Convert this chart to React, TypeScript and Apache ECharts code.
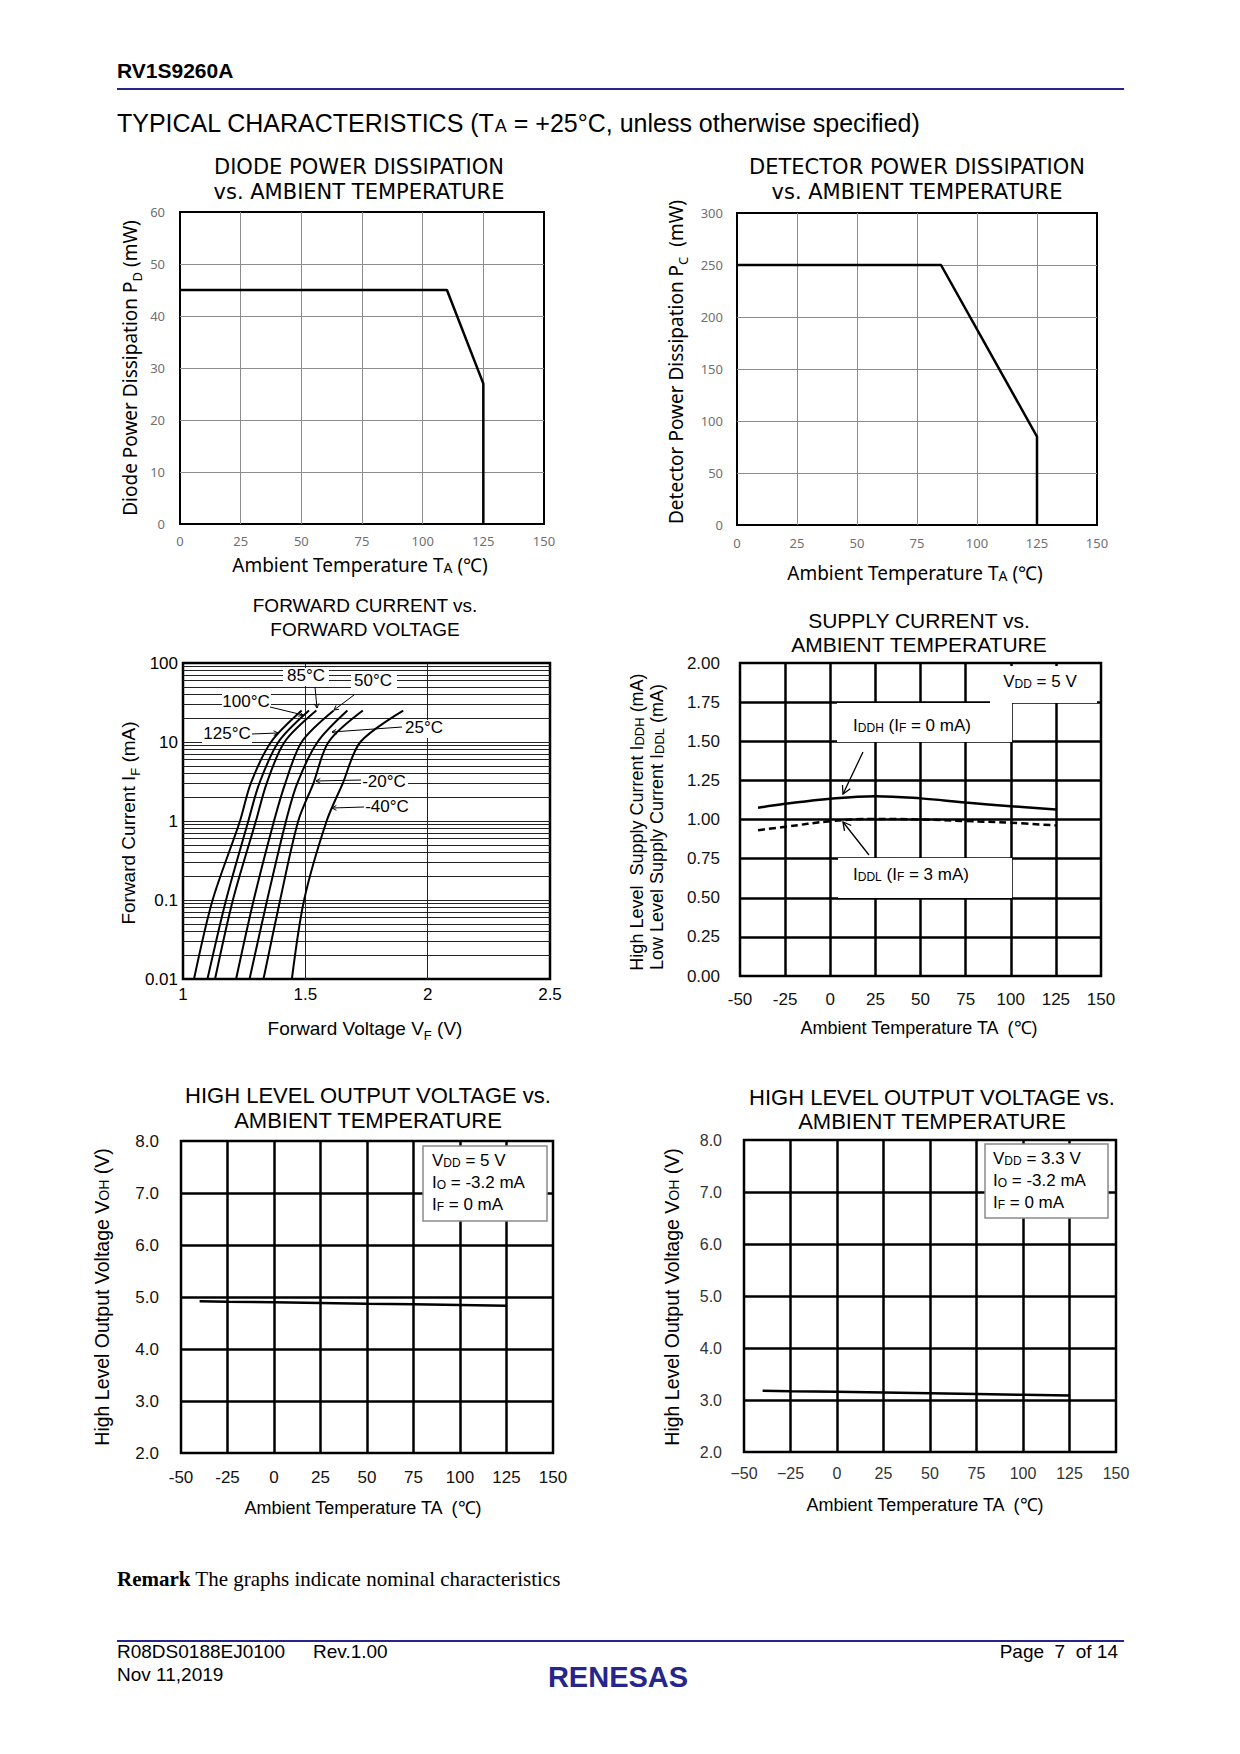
import React, { useEffect, useRef } from "react";
import * as echarts from "echarts";

// ---------- DATA ----------
// Diode power dissipation vs ambient temperature
const PD_TEMP = [0, 110, 125, 125];
const PD_MW = [45, 45, 27, 0];
// Detector power dissipation vs ambient temperature
const PC_TEMP = [0, 85, 125, 125];
const PC_MW = [250, 250, 85, 0];
// Forward current vs forward voltage (IF levels in mA, VF in V per temperature)
const IF_MA = [0.01, 0.1, 1, 3, 10, 25];
const FV_LABELS = ["125°C", "100°C", "85°C", "50°C", "25°C", "-20°C", "-40°C"];
const VF_125 = [1.045, 1.121, 1.233, 1.277, 1.36, 1.485];
const VF_100 = [1.1, 1.176, 1.267, 1.312, 1.39, 1.515];
const VF_85 = [1.131, 1.204, 1.298, 1.342, 1.415, 1.545];
const VF_50 = [1.217, 1.289, 1.372, 1.418, 1.485, 1.616];
const VF_25 = [1.272, 1.344, 1.421, 1.467, 1.55, 1.672];
const VF_M20 = [1.329, 1.397, 1.471, 1.533, 1.595, 1.735];
const VF_M40 = [1.445, 1.495, 1.587, 1.653, 1.725, 1.9];
const VF_CURVES = [VF_125, VF_100, VF_85, VF_50, VF_25, VF_M20, VF_M40];
const LOG_DECADES = [0.01, 0.1, 1, 10];
const LOG_STEPS = [2, 3, 4, 5, 6, 7, 8, 9];
// Supply current vs ambient temperature
const TEMP_C = [-40, -25, 0, 25, 50, 75, 100, 125];
const IDDH_MA = [1.075, 1.1, 1.133, 1.149, 1.135, 1.108, 1.085, 1.064];
const IDDL_MA = [0.932, 0.953, 0.989, 1.004, 1.0, 0.99, 0.979, 0.962];
// High level output voltage vs ambient temperature
const VOH_5V = [4.92, 4.91, 4.9, 4.885, 4.87, 4.86, 4.845, 4.83];
const VOH_33V = [3.18, 3.17, 3.16, 3.145, 3.13, 3.115, 3.1, 3.085];

// ---------- STYLE ----------
const GOTHIC = "'Noto Sans', 'DejaVu Sans', sans-serif";
const DEJAVU = "'DejaVu Sans', 'Noto Sans', sans-serif";
const ARIAL = "'Liberation Sans', Arial, Helvetica, sans-serif";
const SERIF = "'Liberation Serif', 'Times New Roman', serif";
const NAVY = "#25258c";

function rt(x: number, y: number, text: string, fs: number, ff: string, o: any = {}) {
  const fill = o.fill || "#000";
  const fw = o.fontWeight || "normal";
  const lh = o.lh || Math.round(fs * 1.2);
  const ss = Math.round(fs * 0.72);
  const us = Math.round(fs * 0.7);
  return {
    type: "text",
    x,
    y,
    z: o.z ?? 30,
    rotation: o.rotation || 0,
    silent: true,
    style: {
      text,
      align: o.align || "center",
      verticalAlign: "middle",
      fill,
      fontSize: fs,
      fontFamily: ff,
      fontWeight: fw,
      rich: {
        n: { fontSize: fs, fontFamily: ff, fill, fontWeight: fw, verticalAlign: "top", lineHeight: lh },
        b: { fontSize: fs, fontFamily: ff, fill, fontWeight: "bold", verticalAlign: "top", lineHeight: lh },
        s: {
          fontSize: ss,
          fontFamily: ff,
          fill,
          fontWeight: fw,
          verticalAlign: "bottom",
          lineHeight: Math.round(ss * 1.2),
          padding: [0, 0, Math.round(fs * 0.2), 0],
        },
        u: {
          fontSize: us,
          fontFamily: ff,
          fill,
          fontWeight: fw,
          verticalAlign: "bottom",
          lineHeight: Math.round(us * 1.2),
          padding: [Math.round(fs * 0.45), 0, 0, 0],
        },
      },
    },
  };
}

// two-line title as one text block
function title2(x: number, y1: number, y2: number, l1: string, l2: string, fs: number, ff: string) {
  return rt(x, (y1 + y2) / 2, "{n|" + l1 + "}\n{n|" + l2 + "}", fs, ff, { lh: y2 - y1 });
}

function whiteRect(x: number, y: number, w: number, h: number, stroke?: string) {
  return {
    type: "rect",
    z: 25,
    silent: true,
    shape: { x, y, width: w, height: h },
    style: { fill: "#fff", stroke: stroke || null, lineWidth: stroke ? 1.5 : 0 },
  };
}

function hline(x1: number, y1: number, x2: number, y2: number, color: string, w: number) {
  return { type: "line", z: 30, silent: true, shape: { x1, y1, x2, y2 }, style: { stroke: color, lineWidth: w } };
}

function arrow(x1: number, y1: number, x2: number, y2: number, head = 6, width = 1.2) {
  const ang = Math.atan2(y2 - y1, x2 - x1);
  const a1 = ang + Math.PI * 0.84;
  const a2 = ang - Math.PI * 0.84;
  return [
    { type: "line", z: 31, silent: true, shape: { x1, y1, x2, y2 }, style: { stroke: "#000", lineWidth: width } },
    {
      type: "polyline",
      z: 31,
      silent: true,
      shape: {
        points: [
          [x2 + head * Math.cos(a1), y2 + head * Math.sin(a1)],
          [x2, y2],
          [x2 + head * Math.cos(a2), y2 + head * Math.sin(a2)],
        ],
      },
      style: { stroke: "#000", lineWidth: width, fill: null },
    },
  ];
}

function valueAxis(gridIndex: number, min: number, max: number, interval: number, o: any) {
  return {
    type: "value",
    gridIndex,
    min,
    max,
    interval,
    axisLine: { show: false },
    axisTick: { show: false },
    axisLabel: {
      show: true,
      color: o.color,
      fontSize: o.fontSize,
      fontFamily: o.fontFamily,
      margin: o.margin,
      showMinLabel: true,
      showMaxLabel: true,
      hideOverlap: false,
      formatter: o.formatter,
    },
    splitLine: {
      show: true,
      showMinLine: false,
      showMaxLine: false,
      lineStyle: { color: o.splitColor, width: o.splitWidth, type: "solid" },
    },
  };
}

function buildOption() {
  const grids = [
    { left: 180, top: 212, width: 364, height: 312, borderWidth: 2 },
    { left: 737, top: 213, width: 360, height: 312, borderWidth: 2 },
    { left: 183, top: 663, width: 367, height: 316, borderWidth: 2.5 },
    { left: 740, top: 663, width: 361, height: 313, borderWidth: 2.5 },
    { left: 181, top: 1141, width: 372, height: 312, borderWidth: 2.5 },
    { left: 744, top: 1140, width: 372, height: 312, borderWidth: 2.5 },
  ].map((g) => ({ ...g, show: true, borderColor: "#000", containLabel: false }));

  const gothicLbl = { color: "#707070", fontSize: 13, fontFamily: GOTHIC, splitColor: "#8c8c8c", splitWidth: 1 };
  const arialLbl = { color: "#111", fontSize: 17, fontFamily: ARIAL, splitColor: "#000", splitWidth: 2.5 };
  const minus = (v: number) => String(v).replace("-", "\u2212");

  const xAxis = [
    valueAxis(0, 0, 150, 25, { ...gothicLbl, margin: 10 }),
    valueAxis(1, 0, 150, 25, { ...gothicLbl, margin: 11 }),
    valueAxis(2, 1, 2.5, 0.5, { color: "#000", fontSize: 17, fontFamily: ARIAL, margin: 7, splitColor: "#222", splitWidth: 1 }),
    valueAxis(3, -50, 150, 25, { ...arialLbl, margin: 15 }),
    valueAxis(4, -50, 150, 25, { ...arialLbl, margin: 16 }),
    valueAxis(5, -50, 150, 25, { ...arialLbl, color: "#333", fontSize: 16, margin: 13, formatter: minus }),
  ];

  const yAxis: any[] = [
    valueAxis(0, 0, 60, 10, { ...gothicLbl, margin: 15 }),
    valueAxis(1, 0, 300, 50, { ...gothicLbl, margin: 14 }),
    {
      type: "log",
      gridIndex: 2,
      logBase: 10,
      min: 0.01,
      max: 100,
      axisLine: { show: false },
      axisTick: { show: false },
      axisLabel: {
        color: "#000",
        fontSize: 17,
        fontFamily: ARIAL,
        margin: 5,
        showMinLabel: true,
        showMaxLabel: true,
        formatter: (v: number) => String(Number(v.toPrecision(2))),
      },
      splitLine: { show: true, showMinLine: false, showMaxLine: false, lineStyle: { color: "#222", width: 1 } },
    },
    valueAxis(3, 0, 2, 0.25, { ...arialLbl, margin: 20, formatter: (v: number) => v.toFixed(2) }),
    valueAxis(4, 2, 8, 1, { ...arialLbl, margin: 22, formatter: (v: number) => v.toFixed(1) }),
    valueAxis(5, 2, 8, 1, { ...arialLbl, color: "#333", fontSize: 16, margin: 22, formatter: (v: number) => v.toFixed(1) }),
  ];

  const minorLines: any[] = [];
  LOG_DECADES.forEach((d) => LOG_STEPS.forEach((s) => minorLines.push({ yAxis: Number((d * s).toPrecision(2)) })));

  const baseLine = (xi: number, data: number[][], width: number, extra: any = {}) => ({
    type: "line",
    xAxisIndex: xi,
    yAxisIndex: xi,
    data,
    symbol: "none",
    silent: true,
    lineStyle: { color: "#000", width, ...(extra.lineStyle || {}) },
    itemStyle: { color: "#000" },
    smooth: extra.smooth || false,
    z: 5,
    ...(extra.markLine ? { markLine: extra.markLine } : {}),
    name: extra.name,
  });

  const series: any[] = [
    baseLine(0, PD_TEMP.map((t, i) => [t, PD_MW[i]]), 2.5),
    baseLine(1, PC_TEMP.map((t, i) => [t, PC_MW[i]]), 2.5),
    ...VF_CURVES.map((vf, ci) =>
      baseLine(2, vf.map((v, i) => [v, IF_MA[i]]), 2, {
        smooth: 0.3,
        name: FV_LABELS[ci],
        markLine:
          ci === 0
            ? {
                silent: true,
                symbol: ["none", "none"],
                label: { show: false },
                lineStyle: { color: "#222", width: 1, type: "solid" },
                emphasis: { disabled: true },
                data: minorLines,
              }
            : undefined,
      })
    ),
    baseLine(3, TEMP_C.map((t, i) => [t, IDDH_MA[i]]), 2.5, { smooth: 0.4, name: "IDDH" }),
    baseLine(3, TEMP_C.map((t, i) => [t, IDDL_MA[i]]), 2.5, { smooth: 0.4, name: "IDDL", lineStyle: { type: [7, 4] } }),
    baseLine(4, TEMP_C.map((t, i) => [t, VOH_5V[i]]), 2.5, { name: "VOH 5V" }),
    baseLine(5, TEMP_C.map((t, i) => [t, VOH_33V[i]]), 2.5, { name: "VOH 3.3V" }),
  ];

  const ROT = Math.PI / 2;
  const els: any[] = [];

  // Header
  els.push(rt(117, 72, "{b|RV1S9260A}", 21, ARIAL, { align: "left" }));
  els.push(hline(117, 89, 1124, 89, NAVY, 2));
  els.push(rt(117, 125, "{n|TYPICAL CHARACTERISTICS (T}{s|A}{n| = +25°C, unless otherwise specified)}", 25, ARIAL, { align: "left" }));

  // Chart 1
  els.push(title2(359, 169, 194, "DIODE POWER DISSIPATION", "vs. AMBIENT TEMPERATURE", 21, DEJAVU));
  els.push(rt(132, 368, "{n|Diode Power Dissipation P}{u|D}{n| (mW)}", 19, GOTHIC, { rotation: ROT }));
  els.push(rt(360, 567, "{n|Ambient Temperature T}{s|A}{n| (℃)}", 19, GOTHIC));

  // Chart 2
  els.push(title2(917, 169, 194, "DETECTOR POWER DISSIPATION", "vs. AMBIENT TEMPERATURE", 21, DEJAVU));
  els.push(rt(678, 362, "{n|Detector Power Dissipation P}{u|C}{n|  (mW)}", 19, GOTHIC, { rotation: ROT }));
  els.push(rt(915, 575, "{n|Ambient Temperature T}{s|A}{n| (℃)}", 19, GOTHIC));

  // Chart 3
  els.push(title2(365, 608, 632, "FORWARD CURRENT vs.", "FORWARD VOLTAGE", 19, ARIAL));
  els.push(rt(130, 823, "{n|Forward Current I}{u|F}{n| (mA)}", 19, ARIAL, { rotation: ROT }));
  els.push(rt(365, 1030, "{n|Forward Voltage V}{u|F}{n| (V)}", 19, ARIAL));
  const fvLabels: [string, number, number, number, number, number, number, number, number][] = [
    // label, cx, cy, rectX, rectW, ax1, ay1, ax2, ay2
    ["85°C", 306, 677, 283, 46, 315, 687, 317, 708],
    ["50°C", 373, 682, 351, 46, 354, 695, 334, 710],
    ["100°C", 246, 703, 222, 49, 270, 707, 303, 715],
    ["125°C", 227, 735, 202, 50, 252, 734, 278, 733],
    ["25°C", 424, 729, 402, 46, 402, 727, 332, 732],
    ["-20°C", 384, 783, 361, 47, 361, 780, 316, 781],
    ["-40°C", 387, 808, 364, 47, 364, 807, 332, 808],
  ];
  fvLabels.forEach(([t, cx, cy, rx, rw, x1, y1, x2, y2]) => {
    els.push(whiteRect(rx, cy - 9, rw, 18));
    els.push(rt(cx, cy, "{n|" + t + "}", 17, ARIAL));
    els.push(...arrow(x1, y1, x2, y2, 5, 1));
  });

  // Chart 4
  els.push(title2(919, 622, 646, "SUPPLY CURRENT vs.", "AMBIENT TEMPERATURE", 21, ARIAL));
  els.push(rt(639, 822, "{n|High Level  Supply Current I}{s|DDH}{n| (mA)}", 18, ARIAL, { rotation: ROT }));
  els.push(rt(659, 827, "{n|Low Level Supply Current I}{s|DDL}{n| (mA)}", 18, ARIAL, { rotation: ROT }));
  els.push(rt(919, 1030, "{n|Ambient Temperature TA  (℃)}", 18, ARIAL));
  els.push(whiteRect(990, 666, 107, 37));
  els.push(rt(1040, 683, "{n|V}{s|DD}{n| = 5 V}", 17, ARIAL));
  els.push(whiteRect(837, 703, 175, 39));
  els.push(rt(912, 727, "{n|I}{s|DDH}{n| (I}{s|F}{n| = 0 mA)}", 17, ARIAL));
  els.push(whiteRect(838, 858, 174, 40));
  els.push(rt(911, 876, "{n|I}{s|DDL}{n| (I}{s|F}{n| = 3 mA)}", 17, ARIAL));
  els.push(...arrow(863, 752, 843, 794, 9, 1.3));
  els.push(...arrow(869, 855, 843, 822, 9, 1.3));

  // Chart 5
  els.push(title2(368, 1097, 1122, "HIGH LEVEL OUTPUT VOLTAGE vs.", "AMBIENT TEMPERATURE", 22, ARIAL));
  els.push(rt(103, 1297, "{n|High Level Output Voltage V}{s|OH}{n| (V)}", 19.5, ARIAL, { rotation: ROT }));
  els.push(rt(363, 1510, "{n|Ambient Temperature TA  (℃)}", 18, ARIAL));
  els.push(whiteRect(423, 1146, 124, 75, "#8a8a8a"));
  els.push(rt(432, 1162, "{n|V}{s|DD}{n| = 5 V}", 17, ARIAL, { align: "left" }));
  els.push(rt(432, 1184, "{n|I}{s|O}{n| = -3.2 mA}", 17, ARIAL, { align: "left" }));
  els.push(rt(432, 1206, "{n|I}{s|F}{n| = 0 mA}", 17, ARIAL, { align: "left" }));

  // Chart 6
  els.push(title2(932, 1098, 1122, "HIGH LEVEL OUTPUT VOLTAGE vs.", "AMBIENT TEMPERATURE", 22, ARIAL));
  els.push(rt(673, 1297, "{n|High Level Output Voltage V}{s|OH}{n| (V)}", 19.5, ARIAL, { rotation: ROT }));
  els.push(rt(925, 1507, "{n|Ambient Temperature TA  (℃)}", 18, ARIAL));
  els.push(whiteRect(985, 1144, 123, 74, "#8a8a8a"));
  els.push(rt(993, 1160, "{n|V}{s|DD}{n| = 3.3 V}", 17, ARIAL, { align: "left" }));
  els.push(rt(993, 1182, "{n|I}{s|O}{n| = -3.2 mA}", 17, ARIAL, { align: "left" }));
  els.push(rt(993, 1204, "{n|I}{s|F}{n| = 0 mA}", 17, ARIAL, { align: "left" }));

  // Footer
  els.push(rt(117, 1581, "{b|Remark}{n| The graphs indicate nominal characteristics}", 21, SERIF, { align: "left" }));
  els.push(hline(117, 1641, 1124, 1641, NAVY, 2));
  els.push(rt(117, 1653, "{n|R08DS0188EJ0100}", 19, ARIAL, { align: "left" }));
  els.push(rt(313, 1653, "{n|Rev.1.00}", 19, ARIAL, { align: "left" }));
  els.push(rt(1118, 1653, "{n|Page  7  of 14}", 19, ARIAL, { align: "right" }));
  els.push(rt(117, 1676, "{n|Nov 11,2019}", 19, ARIAL, { align: "left" }));
  els.push(rt(618, 1680, "{b|RENESAS}", 29, ARIAL, { fill: NAVY }));

  return {
    animation: false,
    backgroundColor: "#fff",
    grid: grids,
    xAxis,
    yAxis,
    series,
    graphic: { elements: els },
  };
}

export default function App() {
  const ref = useRef<HTMLDivElement>(null);
  useEffect(() => {
    const chart = echarts.init(ref.current as HTMLDivElement, null, { renderer: "svg" });
    chart.setOption(buildOption() as any);
    return () => chart.dispose();
  }, []);
  return (
    <div
      ref={ref}
      style={{ position: "absolute", left: 0, top: 0, width: 1240, height: 1754, background: "#fff" }}
    />
  );
}
